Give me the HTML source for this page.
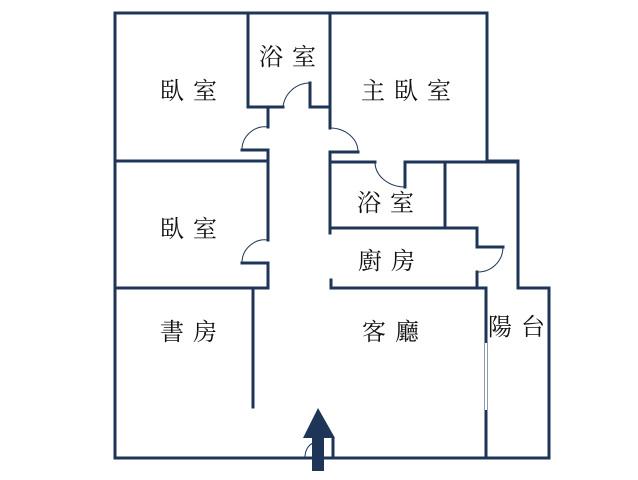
<!DOCTYPE html>
<html><head><meta charset="utf-8"><style>
html,body{margin:0;padding:0;background:#fff;width:638px;height:480px;overflow:hidden}
text{font-family:"Liberation Serif","Noto Serif CJK SC","Noto Sans CJK TC",serif;font-size:24px;fill:#111;letter-spacing:9px}
</style></head><body>
<svg width="638" height="480" viewBox="0 0 638 480">
<g fill="none" stroke="#1f3558" stroke-width="3" stroke-linecap="square">
<path d="M115 13 H487 V161 H518 V288 H549 V458 H115 Z"/>
<path d="M248 13 V107 H283 M310 83 V107 H330 M330 13 V128"/>
<path d="M268 107 V127 M242 150 H268 V160 M115 161 H268 V240 M242 263 H268 V288 H115 M253 288 V407"/>
<path d="M330 152 H358 M330 152 V233 M330 162 H375 M405 162 V187 M405 162 H518 M445 162 V226"/>
<path d="M330 228 H477 V247 H503 M477 272 V288 M331 280 V288 H486 V458"/>
<path d="M333 439 V458"/>
</g>
<g fill="none" stroke="#1f3558" stroke-width="1">
<path d="M283 107 A27 27 0 0 1 310 83"/>
<path d="M268 127 A23 23 0 0 0 242 150"/>
<path d="M330 128 A28 24 0 0 1 358 152"/>
<path d="M375 162 A30 25 0 0 0 405 187"/>
<path d="M268 240 A23 23 0 0 0 242 263"/>
<path d="M503 247 A25 25 0 0 1 477 272"/>
<path d="M313 443 A12 15 0 0 0 305 458"/>
</g>
<path d="M486 343 V410" stroke="#fff" stroke-width="2"/>
<path d="M318 408 L303 438 H312 V471 H324 V438 H335 Z" fill="#1f3558"/>
<text x="160" y="99">臥室</text>
<text x="259" y="65">浴室</text>
<text x="361" y="99">主臥室</text>
<text x="357" y="211">浴室</text>
<text x="160" y="237">臥室</text>
<text x="358" y="269">廚房</text>
<text x="160" y="340">書房</text>
<text x="362" y="340">客廳</text>
<text x="488" y="335">陽台</text>
</svg>
</body></html>
